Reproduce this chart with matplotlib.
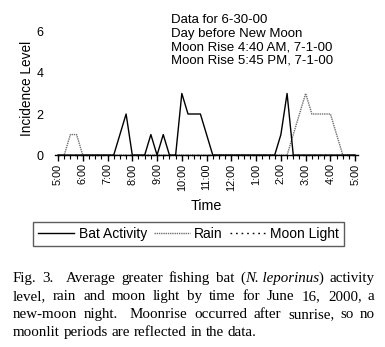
import numpy as np
import matplotlib
matplotlib.use('Agg')
from matplotlib import pyplot as plt
from matplotlib.lines import Line2D
from matplotlib.transforms import IdentityTransform

plt.rcParams['font.family'] = ['Liberation Sans', 'DejaVu Sans']

# 15-minute steps from 5:00 PM to 5:00 AM
hour_labels = ['5:00', '6:00', '7:00', '8:00', '9:00', '10:00', '11:00',
               '12:00', '1:00', '2:00', '3:00', '4:00', '5:00']
bat = [0, 0, 0, 0, 0, 0, 0, 0, 0, 0, 1, 2, 0, 0, 0, 1, 0, 1, 0, 0,
       3, 2, 2, 2, 1, 0, 0, 0, 0, 0, 0, 0, 0, 0, 0, 0, 1, 3, 0, 0,
       0, 0, 0, 0, 0, 0, 0, 0, 0]
rain = [0, 0, 1, 1, 0, 0, 0, 0, 0, 0, 0, 0, 0, 0, 0, 0, 0, 0, 0, 0,
        0, 0, 0, 0, 0, 0, 0, 0, 0, 0, 0, 0, 0, 0, 0, 0, 0, 0, 1, 2,
        3, 2, 2, 2, 2, 1, 0, 0, 0]
moon = [0] * 49
yticks = [0, 2, 4, 6]

info = ['Data for 6-30-00', 'Day before New Moon',
        'Moon Rise 4:40 AM, 7-1-00', 'Moon Rise 5:45 PM, 7-1-00']

caption = [
    [('Fig.', 'normal'), ('3.', 'normal'), ('', 'normal'), ('Average', 'normal'), ('greater', 'normal'),
     ('fishing', 'normal'), ('bat', 'normal'), ('(', 'normal'), ('N. leporinus', 'italic'),
     (')', 'normal'), ('activity', 'normal')],
    [(w, 'normal') for w in 'level, rain and moon light by time for June 16, 2000, a'.split()],
    [(w, 'normal') for w in 'new-moon night.  Moonrise occurred after sunrise, so no'.split(' ')],
    [(w, 'normal') for w in 'moonlit periods are reflected in the data.'.split()],
]

fig = plt.figure(figsize=(3.85, 3.47), dpi=100)
ax = fig.add_axes([0.1426, 0.553, 0.788, 0.385])

rain_ls = (0, (1, 0.6))
moon_ls = (0, (1.2, 2.8))
x = np.arange(len(bat))
ax.plot(x, bat, color='black', lw=1.0, clip_on=False, zorder=3)
ax.plot(x, rain, color='#707070', lw=1.0, ls=rain_ls, clip_on=False, zorder=2)
ax.plot(x, moon, color='black', lw=1.0, ls=moon_ls, clip_on=False, zorder=1)

ax.set_xlim(-0.5, 48.5)
ax.set_ylim(0, 6.5)
for s in ['top', 'right', 'left']:
    ax.spines[s].set_visible(False)
ax.spines['bottom'].set_linewidth(1.0)
ax.set_xticks(np.arange(0, 49, 4))
ax.set_xticklabels(hour_labels, rotation=90, fontsize=7.8)
ax.set_xticks(x, minor=True)
ax.tick_params(axis='x', which='major', length=4, width=1.0, pad=2, direction='out')
ax.tick_params(axis='x', which='minor', length=3, width=0.8, direction='out')
ax.set_yticks(yticks)
ax.set_yticklabels([str(v) for v in yticks], fontsize=9)
ax.tick_params(axis='y', length=0, pad=8)
ax.set_ylabel('Incidence Level', fontsize=9.8, labelpad=2)
ax.set_xlabel('Time', fontsize=10.3, labelpad=6)

fig.text(171 / 385, 1 - 14 / 347, '\n'.join(info), fontsize=9.5, va='top',
         linespacing=1.17, ha='left')

handles = [Line2D([], [], color='black', lw=1.0),
           Line2D([], [], color='#707070', lw=1.0, ls=rain_ls),
           Line2D([], [], color='black', lw=1.0, ls=moon_ls)]
leg = fig.legend(handles, ['Bat Activity', 'Rain', 'Moon Light'], ncol=3,
                 loc='center', bbox_to_anchor=(188.5 / 385, 1 - 234 / 347),
                 fontsize=10.0, frameon=True, fancybox=False, handlelength=2.6,
                 handletextpad=0.3, columnspacing=0.5, borderpad=0.35,
                 borderaxespad=0)
leg.get_frame().set_edgecolor('#333333')
leg.get_frame().set_linewidth(1.0)

# justified caption, word by word on whole-pixel baselines
fig.canvas.draw()
r = fig.canvas.get_renderer()
x0, x1 = 13, 375
ys = [65, 47, 29, 11]  # baseline height above the bottom edge, in pixels
for li, (words, yy) in enumerate(zip(caption, ys)):
    texts = []
    for w, st in words:
        t = fig.text(0, yy, w, fontsize=10.8, family='Liberation Serif',
                     style=st, va='baseline', ha='left',
                     transform=IdentityTransform())
        texts.append(t)
    widths = [t.get_window_extent(r).width for t in texts]
    total = sum(widths)
    n = len(texts) - 1
    gaps = []
    for i in range(n):
        a, b = words[i][0], words[i + 1][0]
        gaps.append(0 if a == '(' or b == ')' else 1)
    if li < len(caption) - 1:
        gap = (x1 - x0 - total) / sum(gaps)
    else:
        gap = 3.8
    pos = float(x0)
    for i, t in enumerate(texts):
        t.set_x(round(pos))
        pos += widths[i] + (gap * gaps[i] if i < n else 0)

fig.savefig('out.png', dpi=100)
